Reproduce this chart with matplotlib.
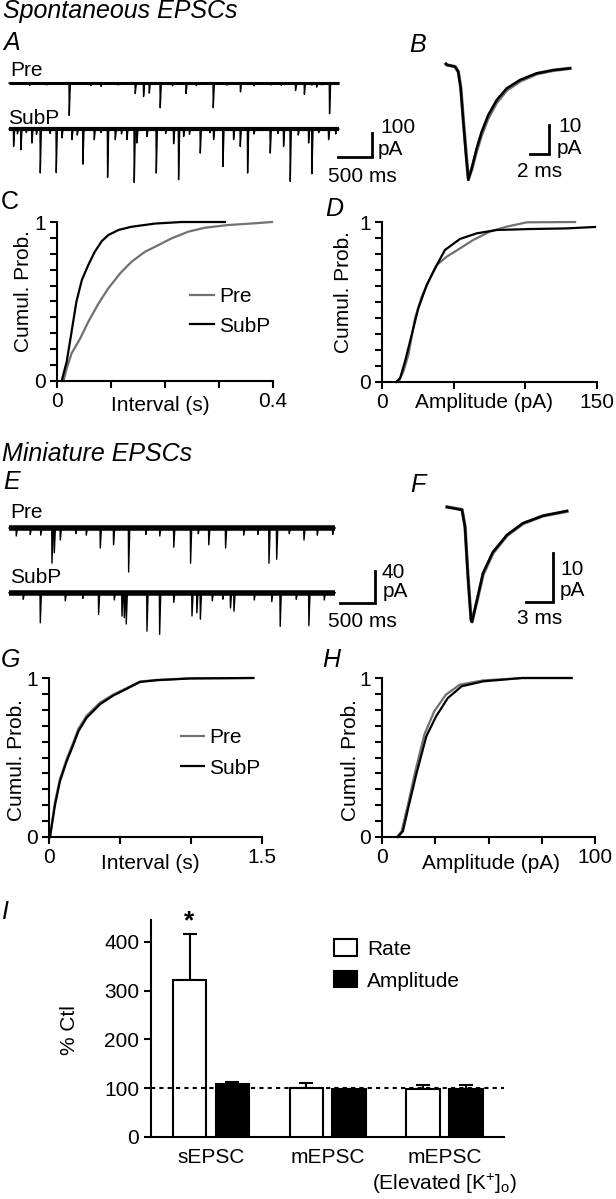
import numpy as np
import matplotlib
matplotlib.use('Agg')
import matplotlib.pyplot as plt
from matplotlib.patches import Patch

plt.rcParams['font.family'] = ['Liberation Sans', 'DejaVu Sans']
plt.rcParams['mathtext.fontset'] = 'custom'
plt.rcParams['mathtext.rm'] = 'Liberation Sans'
plt.rcParams['mathtext.it'] = 'Liberation Sans:italic'
plt.rcParams['font.size'] = 15
plt.rcParams['axes.linewidth'] = 1.5

GRAY = '#707070'
W, H = 616, 1199
FS = 15

# ---- A: spontaneous EPSC traces (event time s, amplitude pA)
a_dur = 4.85
a_pre_t = [0.30, 0.55, 0.882, 1.20, 1.35, 1.60, 1.853, 1.975, 2.059, 2.22, 2.40, 2.60, 2.75,
           3.00, 3.20, 3.40, 3.60, 3.85, 4.00, 4.21, 4.34, 4.45, 4.52, 4.60, 4.71]
a_pre_amp = [10, 8, 135, 10, 14, 8, 44, 56, 42, 103, 12, 44, 10,
             103, 9, 37, 12, 8, 10, 31, 47, 9, 17, 8, 128]
a_sub_t = [0.064, 0.171, 0.333, 0.456, 0.691, 0.775, 0.922, 1.083, 1.25, 1.446, 1.559, 1.73,
           1.838, 1.877, 2.025, 2.162, 2.417, 2.49, 2.564, 2.809, 3.005, 3.142, 3.299, 3.397,
           3.505, 3.838, 4.034, 4.132, 4.402, 4.451, 4.696,
           0.12, 0.25, 0.40, 0.60, 1.00, 1.35, 1.65, 2.30, 2.65, 2.95, 3.60, 3.95, 4.25, 4.55, 4.80]
a_sub_amp = [72, 86, 58, 183, 181, 37, 44, 146, 44, 201, 44, 44,
             222, 58, 31, 183, 61, 211, 31, 100, 44, 156, 44, 72,
             183, 100, 72, 218, 58, 186, 44,
             20, 15, 22, 18, 25, 15, 20, 18, 22, 15, 20, 18, 25, 15, 20]

# ---- B: average sEPSC (ms, pA)
b_t = [0, 0.07, 0.95, 1.29, 1.55, 1.82, 2.11, 2.35, 2.71, 3.23, 3.76, 4.45, 5.34, 6.39,
       7.79, 9.55, 11.3, 13.05]
b_sub = [0, -0.3, -0.9, -2.7, -8.4, -19.9, -31.4, -40.0, -36.0, -29.1, -23.3, -17.6, -12.4,
         -8.4, -5.5, -3.2, -2.1, -1.5]
b_pre = [0, -0.3, -0.9, -2.6, -8.0, -19.0, -30.5, -39.5, -36.3, -29.8, -24.2, -18.5, -13.2,
         -9.0, -5.9, -3.4, -2.2, -1.5]

# ---- C: sEPSC interval CDF
c_pre_x = [0.012, 0.018, 0.027, 0.043, 0.058, 0.077, 0.095, 0.117, 0.138, 0.163, 0.188,
           0.212, 0.243, 0.274, 0.317, 0.367, 0.398]
c_pre_y = [0, 0.08, 0.174, 0.268, 0.373, 0.488, 0.583, 0.677, 0.75, 0.813, 0.855,
           0.897, 0.939, 0.964, 0.981, 0.992, 1.0]
c_sub_x = [0.0086, 0.018, 0.027, 0.036, 0.046, 0.058, 0.070, 0.083, 0.095, 0.114, 0.138,
           0.181, 0.231, 0.311]
c_sub_y = [0, 0.122, 0.31, 0.50, 0.635, 0.73, 0.813, 0.88, 0.918, 0.95, 0.97,
           0.99, 1.0, 1.0]

# ---- D: sEPSC amplitude CDF
d_pre_x = [11.4, 14.9, 18.4, 23.0, 27.7, 33.5, 38.1, 45.1, 54.4, 63.7, 75.3, 87.0, 101, 134.7]
d_pre_y = [0, 0.065, 0.169, 0.398, 0.533, 0.648, 0.731, 0.783, 0.835, 0.888, 0.94, 0.971,
           0.998, 1.0]
d_sub_x = [9.8, 12.6, 16.0, 20.7, 25.3, 31.2, 37.0, 43.9, 54.4, 66.0, 80.0, 103, 128.8, 148.6]
d_sub_y = [0, 0.023, 0.127, 0.294, 0.46, 0.606, 0.71, 0.825, 0.894, 0.929, 0.95, 0.956,
           0.96, 0.969]

# ---- E: miniature EPSC traces (s, pA)
e_dur = 4.66
e_pre_t = [0.61, 0.643, 0.729, 1.30, 1.49, 1.705, 2.35, 2.59, 2.85, 3.09, 3.71, 3.82, 4.21,
           0.10, 0.30, 0.45, 0.95, 1.10, 1.95, 2.15, 2.70, 3.35, 3.55, 4.00, 4.40, 4.62]
e_pre_amp = [44, 31, 15, 25, 21, 55, 24, 44, 21, 25, 44, 39, 15,
             10, 8, 9, 7, 9, 8, 10, 7, 9, 8, 7, 9, 8]
e_sub_t = [0.443, 1.276, 1.61, 1.643, 1.671, 1.967, 2.148, 2.61, 2.68, 2.73, 3.16, 3.21, 3.87, 4.28,
           0.20, 0.80, 1.05, 1.50, 2.35, 2.90, 3.05, 3.50, 3.75, 4.10, 4.50]
e_sub_amp = [37.5, 27, 29, 31, 39, 48, 52, 29, 25, 33, 19, 23, 42, 41,
             8, 10, 7, 9, 12, 10, 8, 9, 11, 8, 9]

# ---- F: average mEPSC (ms, pA)
f_t = [0, 1.67, 2.0, 2.33, 2.67, 2.78, 3.33, 4.0, 5.1, 6.67, 8.44, 10.67, 13.33]
f_sub = [0, -0.6, -4.1, -14.3, -23.1, -23.5, -19, -13.5, -9.2, -5.7, -3.3, -1.8, -0.8]
f_pre = [0, -0.5, -3.9, -14.0, -22.9, -23.3, -19.2, -13.8, -9.4, -5.8, -3.4, -1.8, -0.9]

# ---- G: mEPSC interval CDF
g_x = [0.007, 0.042, 0.077, 0.124, 0.171, 0.207, 0.265, 0.359, 0.453, 0.547, 0.641, 0.758,
       0.993, 1.439]
g_sub_y = [0, 0.20, 0.35, 0.475, 0.58, 0.665, 0.75, 0.835, 0.89, 0.932, 0.975, 0.986,
           0.997, 1.0]
g_pre_y = [0, 0.22, 0.365, 0.49, 0.595, 0.68, 0.763, 0.845, 0.896, 0.937, 0.978, 0.988,
           0.998, 1.0]

# ---- H: mEPSC amplitude CDF
h_sub_x = [7.4, 9.8, 12.5, 16.2, 20.8, 25.4, 30.9, 37.4, 47.5, 65.9, 89]
h_sub_y = [0, 0.036, 0.193, 0.40, 0.633, 0.759, 0.874, 0.948, 0.979, 1.0, 1.0]
h_pre_x = [7.0, 9.2, 12.0, 15.8, 19.9, 24.5, 30.0, 36.5, 47.5, 65.9, 89]
h_pre_y = [0, 0.036, 0.193, 0.423, 0.644, 0.79, 0.895, 0.958, 0.985, 1.0, 1.0]

# ---- I: summary (% of control)
groups = ['sEPSC', 'mEPSC', 'mEPSC\n(Elevated [K$^{+}$]$_{\\mathregular{o}}$)']
rate = [321, 100, 99]
rate_err = [95, 10, 7.5]
ampl = [109, 97.6, 97.6]
ampl_err = [4, 1.5, 9]

fig = plt.figure(figsize=(W / 100, H / 100), dpi=100)


def ptext(x, y, s, **kw):
    kw.setdefault('fontsize', FS)
    fig.text(x / W, 1 - y / H, s, va='baseline', **kw)


def trace_ax(left, top, right, bottom, x0, y0, sx, sy):
    ax = fig.add_axes([left / W, 1 - bottom / H, (right - left) / W, (bottom - top) / H])
    ax.set_xlim((left - x0) / sx, (right - x0) / sx)
    ax.set_ylim(-(bottom - y0) / sy, (y0 - top) / sy)
    ax.axis('off')
    return ax


def events_trace(ax, times, amps, dur, offset, lw_base, lw_ev):
    xs, ys = [0.0], [offset]
    for t, a in sorted(zip(times, amps)):
        xs += [t, t + 0.004, t + 0.02]
        ys += [offset, offset - a, offset]
    xs.append(dur)
    ys.append(offset)
    ax.plot([0, dur], [offset, offset], color='k', lw=lw_base, solid_capstyle='butt')
    ax.plot(xs, ys, color='k', lw=lw_ev)


def scalebar(ax, x1, x2, y1, y2):
    ax.plot([x1, x2, x2], [y1, y1, y2], color='k', lw=2, clip_on=False,
            solid_joinstyle='miter')


def cdf_ax(left, top, right, bottom, xmax, xticks, xticklabels, xlabel, xlab, ylab):
    ax = fig.add_axes([left / W, 1 - bottom / H, (right - left) / W, (bottom - top) / H])
    ax.set_xlim(0, xmax)
    ax.set_ylim(0, 1)
    for s in ['top', 'right']:
        ax.spines[s].set_visible(False)
    ax.set_xticks(xticks)
    ax.set_xticklabels(xticklabels)
    ax.set_yticks(np.linspace(0, 1, 11))
    ax.set_yticklabels(['0'] + [''] * 9 + ['1'])
    ax.tick_params(direction='out', length=5, width=1.5, pad=3, labelsize=FS)
    ax.set_xlabel(xlabel, fontsize=FS)
    ax.xaxis.set_label_coords(*xlab)
    ax.xaxis.label.set_va('top')
    ax.set_ylabel('Cumul. Prob.', fontsize=FS)
    ax.yaxis.set_label_coords(*ylab)
    return ax


title_kw = dict(fontsize=18, style='italic')

# ---------------- A
ptext(3, 18, 'Spontaneous EPSCs', **title_kw)
ptext(3, 50, 'A', **title_kw)
axA = trace_ax(0, 55, 400, 195, 9, 83, 68, 0.24)
events_trace(axA, a_pre_t, a_pre_amp, a_dur, 0, 2.2, 1.0)
events_trace(axA, a_sub_t, a_sub_amp, a_dur, -192, 3.0, 1.0)
scalebar(axA, 4.838, 5.338, -308, -208)
ptext(10, 76, 'Pre')
ptext(8, 124, 'SubP')
ptext(380, 133, '100')
ptext(378, 155, 'pA')
ptext(328, 182, '500 ms')

# ---------------- B
ptext(409, 52, 'B', **title_kw)
axB = trace_ax(430, 55, 610, 195, 446, 64, 9.5, 2.9)
axB.plot(b_t, b_pre, color=GRAY, lw=2.4)
axB.plot(b_t, b_sub, color='k', lw=1.8)
scalebar(axB, 8.84, 10.84, -31, -21)
ptext(558, 132, '10')
ptext(557, 154, 'pA')
ptext(517, 177, '2 ms')

# ---------------- C
ptext(1, 209, 'C', fontsize=18)
axC = cdf_ax(57, 222, 273, 381, 0.4, [0, 0.1, 0.2, 0.3, 0.4], ['0', '', '', '', '0.4'],
             'Interval (s)', (0.48, -0.095), (-0.11, 0.565))
axC.plot(c_pre_x, c_pre_y, color=GRAY, lw=1.6, clip_on=False, label='Pre')
axC.plot(c_sub_x, c_sub_y, color='k', lw=1.6, clip_on=False, label='SubP')
axC.legend(frameon=False, loc='center left', bbox_to_anchor=(0.616, 0.437), borderpad=0,
           borderaxespad=0, handlelength=1.15, handletextpad=0.25, labelspacing=0.5,
           fontsize=FS)

# ---------------- D
ptext(325, 216, 'D', **title_kw)
axD = cdf_ax(382, 222, 597, 382, 150, [0, 50, 100, 150], ['0', '', '', '150'],
             'Amplitude (pA)', (0.475, -0.07), (-0.135, 0.5625))
axD.plot(d_pre_x, d_pre_y, color=GRAY, lw=1.6, clip_on=False)
axD.plot(d_sub_x, d_sub_y, color='k', lw=1.6, clip_on=False)

# ---------------- E
ptext(2, 461, 'Miniature EPSCs', **title_kw)
ptext(3, 489, 'E', **title_kw)
axE = trace_ax(0, 495, 400, 645, 9, 528, 70, 0.8)
events_trace(axE, e_pre_t, e_pre_amp, e_dur, 0, 4.0, 1.0)
events_trace(axE, e_sub_t, e_sub_amp, e_dur, -81, 4.0, 1.0)
scalebar(axE, 4.729, 5.229, -93.75, -53.75)
ptext(10, 518, 'Pre')
ptext(10, 583, 'SubP')
ptext(382, 578, '40')
ptext(383, 597, 'pA')
ptext(328, 627, '500 ms')

# ---------------- F
ptext(410, 492, 'F', **title_kw)
axF = trace_ax(430, 495, 610, 645, 447, 507, 9, 4.9)
axF.plot(f_t, f_pre, color=GRAY, lw=2.4)
axF.plot(f_t, f_sub, color='k', lw=1.8)
scalebar(axF, 8.78, 11.78, -19.39, -9.39)
ptext(560, 575, '10')
ptext(560, 596, 'pA')
ptext(517, 624, '3 ms')

# ---------------- G
ptext(1, 667, 'G', **title_kw)
axG = cdf_ax(49, 678, 262, 837, 1.5, [0, 0.5, 1.0, 1.5], ['0', '', '', '1.5'],
             'Interval (s)', (0.474, -0.105), (-0.11, 0.484))
axG.plot(g_x, g_pre_y, color=GRAY, lw=1.6, clip_on=False, label='Pre')
axG.plot(g_x, g_sub_y, color='k', lw=1.6, clip_on=False, label='SubP')
axG.legend(frameon=False, loc='center left', bbox_to_anchor=(0.62, 0.528), borderpad=0,
           borderaxespad=0, handlelength=1.1, handletextpad=0.25, labelspacing=0.55,
           fontsize=FS)

# ---------------- H
ptext(322, 667, 'H', **title_kw)
axH = cdf_ax(382, 678, 595, 837, 100, [0, 25, 50, 75, 100], ['0', '', '', '', '100'],
             'Amplitude (pA)', (0.51, -0.11), (-0.103, 0.484))
axH.plot(h_pre_x, h_pre_y, color=GRAY, lw=1.6, clip_on=False)
axH.plot(h_sub_x, h_sub_y, color='k', lw=1.6, clip_on=False)

# ---------------- I
ptext(1, 919, 'I', **title_kw)
axI = fig.add_axes([151 / W, 1 - 1137 / H, 353 / W, 217 / H])
x = np.arange(len(groups))
bw, off = 0.287, 0.184
axI.bar(x - off, rate, bw, color='white', edgecolor='k', lw=1.5, zorder=3)
axI.bar(x + off, ampl, bw, color='k', edgecolor='k', lw=1.5, zorder=3)
axI.errorbar(x - off, rate, yerr=[np.zeros(3), rate_err], fmt='none', ecolor='k',
             elinewidth=1.5, capsize=5, capthick=1.5, zorder=2)
axI.errorbar(x + off, ampl, yerr=[np.zeros(3), ampl_err], fmt='none', ecolor='k',
             elinewidth=1.5, capsize=5, capthick=1.5, zorder=2)
axI.axhline(100, color='k', lw=1.5, ls=(0, (2, 2)), zorder=4)
axI.text(x[0] - off, rate[0] + rate_err[0] + 2, '*', ha='center', va='bottom',
         fontsize=19, fontweight='bold')
axI.set_xlim(-0.514, 2.51)
axI.set_ylim(0, 445)
axI.set_yticks([0, 100, 200, 300, 400])
for s in ['top', 'right']:
    axI.spines[s].set_visible(False)
axI.tick_params(axis='y', direction='out', length=5, width=1.5, labelsize=FS)
axI.set_xticks(x)
axI.set_xticklabels(groups, fontsize=FS)
axI.tick_params(axis='x', length=0, pad=8)
axI.get_xticklabels()[2].set_linespacing(1.25)
axI.set_ylabel('% Ctl', fontsize=FS)
axI.yaxis.set_label_coords(-0.204, 0.493)
axI.legend(handles=[Patch(facecolor='white', edgecolor='k', lw=1.5, label='Rate'),
                    Patch(facecolor='k', edgecolor='k', lw=1.5, label='Amplitude')],
           frameon=False, loc='center left', bbox_to_anchor=(0.518, 0.793), borderpad=0,
           borderaxespad=0, handlelength=1.13, handleheight=0.82, handletextpad=0.45,
           labelspacing=0.6, fontsize=FS)

fig.savefig('out.png', dpi=100)
